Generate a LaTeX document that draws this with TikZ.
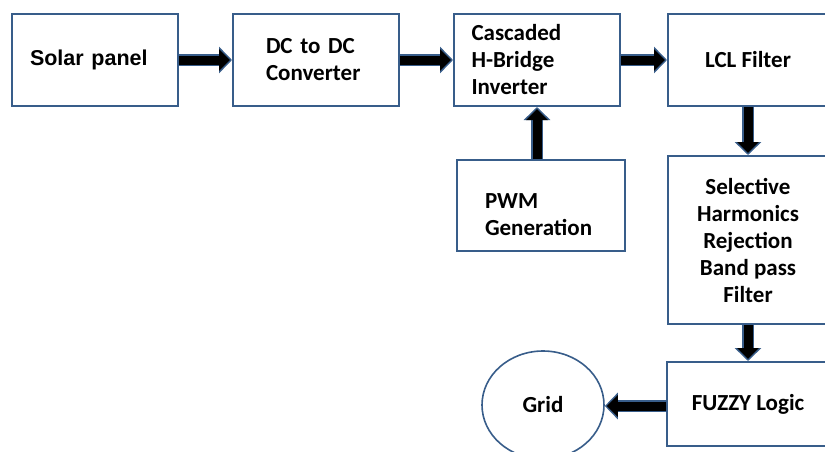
\documentclass[tikz,border=0pt]{standalone}
\usepackage{fontspec}
\usepackage{xcolor}
\usetikzlibrary{shapes.geometric,arrows.meta,positioning,calc}
\newfontfamily\calfont{Carlito}[BoldFont={Carlito Bold}]
\newfontfamily\arialfont{Liberation Sans}
\definecolor{boxblue}{RGB}{56,93,138}

\begin{document}
\begin{tikzpicture}[x=1pt,y=-1pt,
	blk/.style={rectangle, draw=boxblue, line width=2pt, minimum width=166pt, minimum height=92pt, inner sep=0pt, font=\calfont\bfseries\fontsize{23}{27}\selectfont},
	flow/.style={black, line width=9pt, -{Triangle[length=11pt,width=21pt]}, shorten >=2pt,
		preaction={draw=boxblue, line width=12.5pt, -{Triangle[length=13pt,width=26pt]}, shorten >=0pt}}]
	\useasboundingbox (0,0) rectangle (825,451);
	\node[blk, align=left, text width=130pt] (solar) at (95,60) {\arialfont\fontsize{21.5}{26}\selectfont Solar panel};
	\node[blk, right=53pt of solar, align=left, text width=100pt] (dcdc) {DC to DC\\Converter};
	\node[blk, right=53pt of dcdc, align=left, text width=131pt] (chb) {Cascaded\\H-Bridge\\Inverter};
	\node[blk, minimum width=160pt, align=center] (lcl) at (748,60) {LCL Filter};
	
	\node[blk, minimum width=168pt, minimum height=91pt, align=left, text width=112pt, text height=33pt] (pwm) at (541,205.5) {PWM\\Generation};
	\node[blk, minimum width=160pt, minimum height=168pt, below=48pt of lcl, align=center] (sel) {Selective\\Harmonics\\Rejection\\Band pass\\Filter};
	\node[blk, minimum width=162pt, minimum height=84pt, below=36pt of sel, align=center] (fuzzy) {FUZZY Logic};
	\node[blk, ellipse, line width=1.6pt, minimum width=122pt, minimum height=108pt] (grid) at (543,405) {Grid};
	
	\draw[flow] (solar) -- (dcdc);
	\draw[flow] (dcdc) -- (chb);
	\draw[flow] (chb) -- (lcl.west |- chb.east);
	\draw[flow] (chb.south |- pwm.north) -- (chb.south);
	\draw[flow] (lcl) -- (sel);
	\draw[flow] (sel) -- (fuzzy);
	\draw[flow] ([yshift=-2pt]fuzzy.west) -- ([yshift=-2pt]grid.east |- fuzzy.west);
\end{tikzpicture}
\end{document}
